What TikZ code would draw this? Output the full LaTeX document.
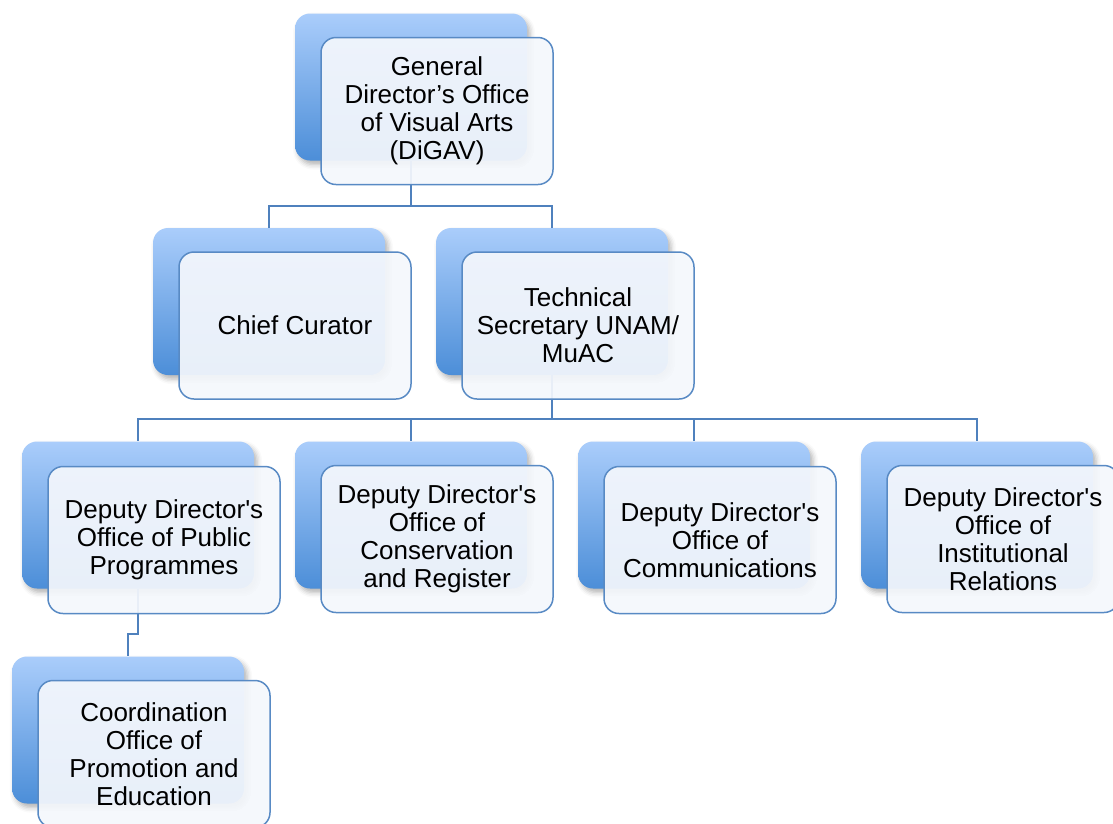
\documentclass[tikz,border=0pt]{standalone}
\usepackage{fontspec}
\setmainfont{Liberation Sans}[Ligatures=TeXOff]
\usetikzlibrary{shadows.blur}
\definecolor{linkblue}{RGB}{79,129,189}
\definecolor{edgeblue}{RGB}{88,138,196}
\definecolor{gradtop}{RGB}{170,205,251}
\definecolor{gradbot}{RGB}{76,142,216}
\definecolor{cardfill}{RGB}{244,247,252}
\tikzset{
  backcard/.style={rounded corners=15pt, minimum width=232pt, minimum height=147pt,
    inner sep=0pt, top color=gradtop, bottom color=gradbot, draw=none,
    blur shadow={shadow xshift=3pt, shadow yshift=-4pt, shadow blur radius=5pt, shadow opacity=30}},
  frontcard/.style={rounded corners=15pt, minimum width=232pt, minimum height=147pt,
    inner sep=0pt, draw=edgeblue, line width=1.5pt, fill=cardfill, fill opacity=0.93,
    text opacity=1, align=center, font=\fontsize{26}{28}\selectfont},
  link/.style={draw=linkblue, line width=1.6pt}
}
\begin{document}
\begin{tikzpicture}[x=1pt,y=-1pt]
\useasboundingbox (0,0) rectangle (1113,823);

% blue backing cards
\node[backcard] (bTop)   at (411,87)  {};
\node[backcard] (bChief) at (269,301.5) {};
\node[backcard] (bTech)  at (552,301.5) {};
\node[backcard] (bPub)   at (138,515) {};
\node[backcard] (bCons)  at (411,515) {};
\node[backcard] (bComm)  at (694,515) {};
\node[backcard] (bInst)  at (977,515) {};
\node[backcard] (bCoord) at (128,730) {};

% junction points of the tree
\coordinate (j1) at (411,206);
\coordinate (j2) at (552,419);
\coordinate (j3) at (138,634);

% connectors
\draw[link] (bTop.south) -- (j1) -| (bChief.north);
\draw[link] (j1) -| (bTech.north);
\draw[link] (bTech.south) -- (j2) -| (bPub.north);
\draw[link] (j2) -| (bCons.north);
\draw[link] (j2) -| (bComm.north);
\draw[link] (j2) -| (bInst.north);
\draw[link] (bPub.south) -- (j3) -| (bCoord.north);

% front cards with the titles
\node[frontcard] (fTop)   at (437,111)   {General\\Director’s Office\\of Visual Arts\\(DiGAV)};
\node[frontcard] (fChief) at (295,325.5) {Chief Curator};
\node[frontcard] (fTech)  at (578,325.5) {Technical\\Secretary UNAM/\\MuAC};
\node[frontcard] (fPub)   at (164,540)   {Deputy Director's\\Office of Public\\Programmes};
\node[frontcard] (fCons)  at (437,539)   {Deputy Director's\\Office of\\Conservation\\and Register};
\node[frontcard] (fComm)  at (720,540)   {Deputy Director's\\Office of\\Communications};
\node[frontcard] (fInst)  at (1003,539)  {Deputy Director's\\Office of\\Institutional\\Relations};
\node[frontcard] (fCoord) at (154,754)   {Coordination\\Office of\\Promotion and\\Education};
\end{tikzpicture}
\end{document}
